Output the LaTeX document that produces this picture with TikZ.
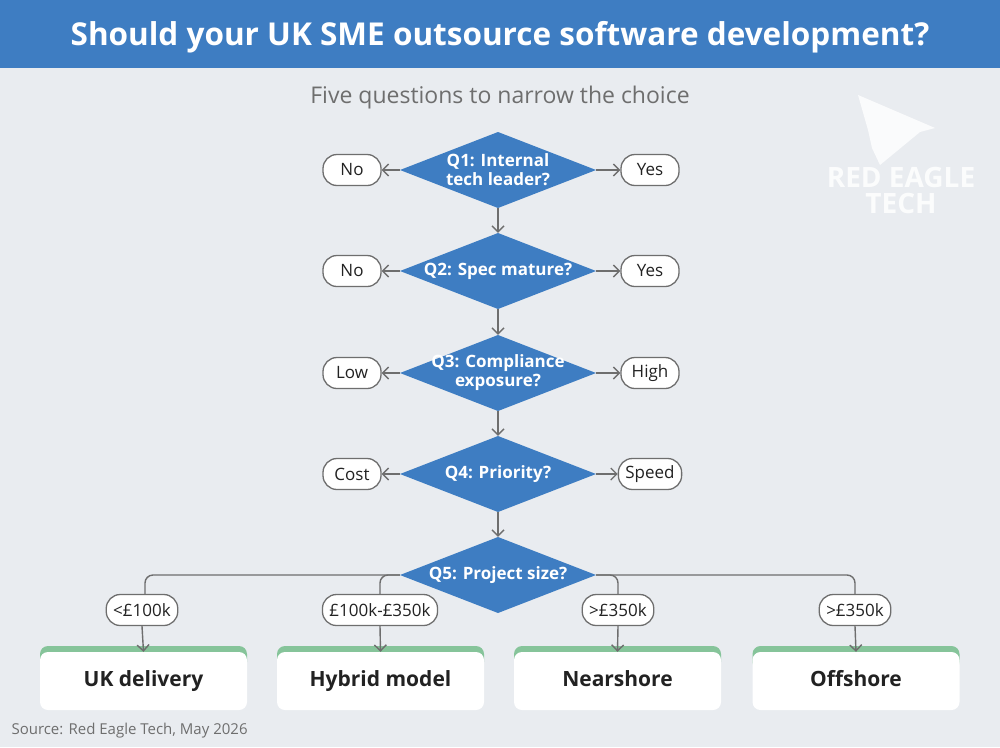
\documentclass[tikz,border=0pt]{standalone}
\usepackage{fontspec}
\setmainfont{Open Sans}
\usetikzlibrary{shapes.geometric,arrows.meta}
\definecolor{bg}{HTML}{E9ECF0}
\definecolor{blu}{HTML}{3E7DC2}
\definecolor{grn}{HTML}{86C49A}
\definecolor{ln}{HTML}{6E6E6E}
\definecolor{txt}{HTML}{222222}
\begin{document}
\begin{tikzpicture}[x=1pt,y=-1pt,
  q/.style={rectangle,draw=none,minimum width=196pt,minimum height=76pt,inner sep=0pt,text=white,font=\fontsize{17}{19}\selectfont\bfseries,align=center,
    path picture={\fill[blu] (path picture bounding box.west) -- (path picture bounding box.north) -- (path picture bounding box.east) -- (path picture bounding box.south) -- cycle;}},
  pill/.style={draw=ln,line width=1.3pt,rounded corners=14pt,fill=white,minimum height=31pt,minimum width=58pt,inner xsep=7pt,font=\fontsize{17}{19}\selectfont,text=txt},
  ar/.style={draw=ln,line width=1.4pt,-{Straight Barb[length=6pt,width=12pt]}},
  ln/.style={draw=ln,line width=1.4pt},
  res/.style={fill=white,rounded corners=8pt,minimum width=207pt,minimum height=58pt,text height=15pt,text depth=4pt,font=\fontsize{21}{23}\selectfont\bfseries,text=txt}]
\fill[bg] (0,0) rectangle (1000,747);
\useasboundingbox (0,0) rectangle (1000,747);
\fill[blu] (0,0) rectangle (1000,68);
\node[text=white,font=\fontsize{31.5}{34}\selectfont\bfseries] (title) at (500,37) {Should your UK SME outsource software development?};
\node[text=ln,font=\fontsize{23}{26}\selectfont] (sub) at (500,98) {Five questions to narrow the choice};
% logo
\fill[white,opacity=0.8] (858,95) -- (935,128) -- (920,132) -- (880,165) -- (872,148) -- (868,130) -- cycle;
\node[text=white,opacity=0.85,font=\fontsize{28}{28}\selectfont\bfseries,align=center] (logo) at (901,190) {RED EAGLE\\[-2pt]TECH};
% diamonds
\node[q] (q1) at (498,170) {Q1: Internal\\tech leader?};
\node[q] (q2) at (498,271) {Q2: Spec mature?};
\node[q] (q3) at (498,373) {Q3: Compliance\\exposure?};
\node[q] (q4) at (498,474) {Q4: Priority?};
\node[q] (q5) at (498,575) {Q5: Project size?};
\foreach \a/\b in {q1/q2,q2/q3,q3/q4,q4/q5} \draw[ar] (\a.south) -- (\b.north);
\foreach \i/\l/\r/\y in {1/No/Yes/170,2/No/Yes/271,3/Low/High/373,4/Cost/Speed/474}{
  \node[pill] (l\i) at (352,\y) {\l};
  \node[pill] (r\i) at (650,\y) {\r};
  \draw[ar] (q\i.west) -- (l\i.east);
  \draw[ar] (q\i.east) -- (r\i.west);
}
% Q5 branches
\node[pill] (p1) at (142,610) {<£100k};
\node[pill] (p2) at (380,610) {£100k-£350k};
\node[pill] (p3) at (618,610) {>£350k};
\node[pill] (p4) at (855,610) {>£350k};
\draw[ln,rounded corners=8pt] (q5.west) -- (145,575) -- (p1.north-|145,0);
\draw[ln,rounded corners=8pt] (q5.west) -- (380,575) -- (p2.north);
\draw[ln,rounded corners=8pt] (q5.east) -- (618,575) -- (p3.north);
\draw[ln,rounded corners=8pt] (q5.east) -- (855,575) -- (p4.north);
\foreach \x/\t/\k in {143.5/UK delivery/1,380.5/Hybrid model/2,617.5/Nearshore/3,856/Offshore/4}{
  \fill[grn,rounded corners=8pt] (\x-103.5,646) rectangle (\x+103.5,670);
  \node[res] (b\k) at (\x,681) {\t};
  \draw[ar] (p\k.south) -- (b\k.north);
}
\node[anchor=west,text=ln,font=\fontsize{15}{17}\selectfont] (src) at (8,731) {Source: Red Eagle Tech, May 2026};
\end{tikzpicture}
\end{document}
